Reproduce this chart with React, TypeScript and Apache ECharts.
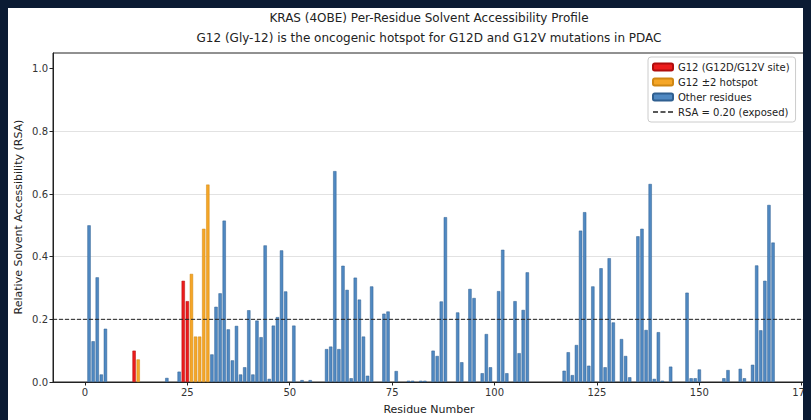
import React, { useEffect, useRef } from 'react';
import * as echarts from 'echarts';

const titleLines = [
  'KRAS (4OBE) Per-Residue Solvent Accessibility Profile',
  'G12 (Gly-12) is the oncogenic hotspot for G12D and G12V mutations in PDAC',
];
const xAxisLabel = 'Residue Number';
const yAxisLabel = 'Relative Solvent Accessibility (RSA)';
const seriesNames = ['G12 (G12D/G12V site)', 'G12 \u00b12 hotspot', 'Other residues', 'RSA = 0.20 (exposed)'];

const g12Residues = [12, 24, 25];
const g12Rsa = [0.10, 0.323, 0.258];

const hotspotResidues = [13, 26, 27, 28, 29, 30];
const hotspotRsa = [0.072, 0.345, 0.145, 0.145, 0.489, 0.63];

const otherResidues = [
  1, 2, 3, 4, 5, 20, 23,
  31, 32, 33, 34, 35, 36, 37, 38, 39, 40, 41, 42, 43, 44, 45, 46, 47, 48, 49, 51, 53, 55,
  59, 60, 61, 62, 63, 64, 65, 66, 67, 68, 69, 70, 73, 74, 76, 79, 80, 82, 83,
  85, 86, 87, 88, 91, 92, 94, 95, 97, 98, 99, 101, 102, 103, 105, 106, 107, 108,
  117, 118, 119, 120, 121, 122, 123, 124, 126, 127, 128, 129, 131, 132, 133,
  135, 136, 137, 138, 139, 140, 141, 143, 147, 148, 149, 150, 156, 157, 160, 161,
  163, 164, 165, 166, 167, 168,
];
const otherRsa = [
  0.50, 0.13, 0.334, 0.024, 0.17, 0.013, 0.033,
  0.088, 0.24, 0.283, 0.515, 0.168, 0.069, 0.179, 0.024, 0.047, 0.229, 0.024, 0.196, 0.143, 0.436, 0.01, 0.18, 0.207, 0.42, 0.289, 0.18, 0.006, 0.006,
  0.105, 0.113, 0.673, 0.105, 0.371, 0.294, 0.012, 0.333, 0.263, 0.145, 0.02, 0.305, 0.218, 0.225, 0.035, 0.004, 0.004, 0.004, 0.004,
  0.10, 0.083, 0.257, 0.526, 0.222, 0.063, 0.297, 0.268, 0.028, 0.153, 0.047, 0.29, 0.422, 0.028, 0.258, 0.092, 0.23, 0.35,
  0.036, 0.095, 0.022, 0.118, 0.483, 0.542, 0.052, 0.305, 0.363, 0.047, 0.395, 0.19, 0.137, 0.083, 0.015,
  0.465, 0.489, 0.166, 0.632, 0.01, 0.159, 0.004, 0.049, 0.285, 0.012, 0.012, 0.04, 0.012, 0.038, 0.042, 0.012,
  0.055, 0.372, 0.165, 0.323, 0.565, 0.445,
];

const exposedThreshold = 0.2;
const xTicks = [0, 25, 50, 75, 100, 125, 150, 175];
const yTicks = [0, 0.2, 0.4, 0.6, 0.8, 1.0];
const xRange = [-7.8, 175.8];
const yRange = [0, 1.05];

const FONT = 'DejaVu Sans';
const DASH_ICON = 'path://M0,0H5V1.3H0Z M7.5,0H12.5V1.3H7.5Z M15,0H20V1.3H15Z';

export default function App() {
  const ref = useRef<HTMLDivElement>(null);

  useEffect(() => {
    document.body.style.background = '#0b1b33';
    const chart = echarts.init(ref.current!, null, { renderer: 'svg' });
    const pairs = (xs: number[], ys: number[]) => xs.map((x, i) => [x, ys[i]]);
    const barCommon = { type: 'bar', barWidth: 3.3, barGap: '-100%', z: 2 };
    const txt = (text: string, size: number) => ({
      text, fontSize: size, fontFamily: FONT, fill: '#222',
      align: 'center', verticalAlign: 'middle', textAlign: 'center', textVerticalAlign: 'middle',
    });

    chart.setOption({
      animation: false,
      backgroundColor: '#ffffff',
      textStyle: { fontFamily: FONT },
      grid: {
        left: 45, top: 45, right: 6, bottom: 38,
        show: true, borderColor: '#222', borderWidth: 1, backgroundColor: '#fff',
        outerBoundsMode: 'none', containLabel: false,
      },
      graphic: [
        { type: 'text', x: 421, y: 10, style: txt(titleLines[0], 12) },
        { type: 'text', x: 421, y: 30, style: txt(titleLines[1], 12) },
        { type: 'text', x: 421, y: 401, style: txt(xAxisLabel, 11) },
        { type: 'text', x: 10, y: 209, rotation: Math.PI / 2, style: txt(yAxisLabel, 11) },
      ],
      legend: {
        orient: 'vertical',
        left: 640, top: 49,
        padding: [4, 6, 4, 4],
        itemWidth: 20, itemHeight: 7, itemGap: 3, itemTextGap: 8,
        backgroundColor: '#fff', borderColor: '#cccccc', borderWidth: 1, borderRadius: 3,
        textStyle: { fontSize: 10, fontFamily: FONT, color: '#222', lineHeight: 12 },
        data: [
          { name: seriesNames[0] },
          { name: seriesNames[1] },
          { name: seriesNames[2] },
          { name: seriesNames[3], icon: DASH_ICON },
        ],
      },
      xAxis: {
        type: 'value', min: xRange[0], max: xRange[1],
        axisLine: { show: true, onZero: false, lineStyle: { color: '#222', width: 1 } },
        axisTick: { show: true, length: 3.5, lineStyle: { color: '#222' }, customValues: xTicks },
        axisLabel: { fontSize: 10, color: '#333', margin: 5, fontFamily: FONT, customValues: xTicks, formatter: (v: number) => String(v) },
        splitLine: { show: false },
      },
      yAxis: {
        type: 'value', min: yRange[0], max: yRange[1], interval: 0.2,
        axisLine: { show: true, onZero: false, lineStyle: { color: '#222', width: 1 } },
        axisTick: { show: true, length: 3.5, lineStyle: { color: '#222' }, customValues: yTicks },
        axisLabel: { fontSize: 10, color: '#333', margin: 5, fontFamily: FONT, customValues: yTicks, formatter: (v: number) => v.toFixed(1) },
        splitLine: { show: true, showMinLine: false, showMaxLine: false, lineStyle: { color: '#e2e2e2', width: 1 } },
      },
      series: [
        { ...barCommon, name: seriesNames[0], data: pairs(g12Residues, g12Rsa), itemStyle: { color: '#ec1c1c', borderColor: '#b00d0d', borderWidth: 0.5 } },
        { ...barCommon, name: seriesNames[1], data: pairs(hotspotResidues, hotspotRsa), itemStyle: { color: '#f5a627', borderColor: '#cf8714', borderWidth: 0.5 } },
        { ...barCommon, name: seriesNames[2], data: pairs(otherResidues, otherRsa), itemStyle: { color: '#5089c2', borderColor: '#2f5f90', borderWidth: 0.5 } },
        {
          type: 'line', name: seriesNames[3], symbol: 'none', silent: true, z: 5,
          data: [[xRange[0], exposedThreshold], [xRange[1], exposedThreshold]],
          lineStyle: { color: '#222', width: 1, type: [4, 2] },
          itemStyle: { color: '#222' },
        },
      ],
    });
    return () => chart.dispose();
  }, []);

  return <div ref={ref} style={{ width: 803, height: 412, background: '#fff' }} />;
}
